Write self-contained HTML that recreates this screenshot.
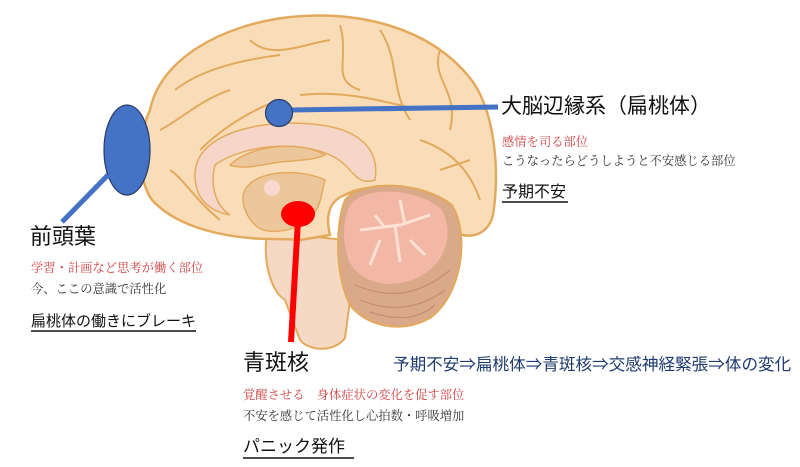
<!DOCTYPE html>
<html><head><meta charset="utf-8"><style>
html,body{margin:0;padding:0;background:#fff;width:800px;height:467px;overflow:hidden}
svg{display:block}
text{font-family:"Liberation Serif","Noto Serif CJK SC","Noto Sans CJK JP",serif}
.h{font-family:"Liberation Sans","Noto Sans CJK JP",sans-serif}
</style></head><body>
<svg width="800" height="467" viewBox="0 0 800 467" xmlns="http://www.w3.org/2000/svg">
<!-- brainstem -->
<path d="M268,232 C262,250 268,290 285,300 L300,340 C310,352 335,352 345,338 L350,300 L345,240 Z" fill="#f6d9c4" stroke="#e3aa5e" stroke-width="2"/>
<!-- cerebrum -->
<path d="M150,110 C160,60 220,25 290,17 C360,10 430,28 470,78 C495,110 500,170 493,215 C488,235 470,240 455,232 C440,200 380,175 345,195 C330,200 325,215 330,235 L300,240 C280,238 265,240 250,238 C215,235 175,225 152,200 C137,180 138,135 150,110 Z" fill="#f9ddb8" stroke="#e3aa5e" stroke-width="2.5"/>
<g stroke="#e3aa5e" stroke-width="2" fill="none">
<path d="M175,90 C200,70 240,60 280,55 M250,40 C270,60 300,45 330,40 M340,25 C350,60 330,80 360,90 M380,30 C400,60 390,90 410,120 M440,50 C430,80 460,90 450,130 M160,130 C180,120 200,100 230,90 M200,150 C220,130 250,110 280,100 M300,95 C340,90 380,100 420,110 M420,140 C450,150 470,170 480,200 M170,170 C185,180 195,200 220,220 M440,170 L470,160"/>
</g>
<!-- cerebellum -->
<path d="M345,200 C360,180 420,180 452,205 C470,235 462,295 430,318 C400,335 365,325 350,305 C335,275 335,225 345,200 Z" fill="#d9a98a" stroke="#e3aa5e" stroke-width="2"/>
<g stroke="#c48e70" stroke-width="1.2" fill="none">
<path d="M355,285 C390,300 420,295 450,270 M360,300 C395,315 425,305 445,290 M370,312 C400,322 420,318 435,305"/>
</g>
<path d="M350,205 C365,185 420,188 442,210 C455,235 445,268 412,280 C385,290 355,280 348,258 C342,240 343,220 350,205 Z" fill="#f3b7a6"/>
<path d="M360,230 L400,225 L430,215 M395,225 L400,262 M380,240 L370,265 M410,240 L425,255 M400,200 L405,225 M375,215 L385,228" stroke="#fde2d4" stroke-width="3" fill="none"/>
<!-- corpus callosum -->
<path d="M195,175 C195,130 270,118 320,125 C360,130 380,150 375,180 C360,185 355,175 345,165 C320,140 250,140 215,165 C210,185 215,205 230,215 C205,210 195,195 195,175 Z" fill="#f6d6c9" stroke="#e3aa5e" stroke-width="1.5"/>
<path d="M230,165 C250,145 300,140 325,155 C315,160 300,160 280,162 C260,165 245,170 230,165 Z" fill="#ecc79c" stroke="#e3aa5e" stroke-width="1.5"/>
<path d="M245,190 C255,170 300,168 325,180 C320,200 320,215 300,225 C280,235 262,232 255,225 C245,215 240,200 245,190 Z" fill="#ecc79c" stroke="#e3aa5e" stroke-width="1.5"/>
<circle cx="272" cy="188" r="8" fill="#f8d8cf"/>
<!-- markers -->
<ellipse cx="127" cy="150" rx="23" ry="45" fill="#4472c4" stroke="#2a3c66" stroke-width="1.2"/>
<line x1="108" y1="175" x2="62" y2="222" stroke="#4472c4" stroke-width="5"/>
<line x1="290" y1="110" x2="498" y2="107" stroke="#4472c4" stroke-width="5"/>
<circle cx="279" cy="113" r="13.5" fill="#4472c4" stroke="#2a3c66" stroke-width="1.2"/>
<line x1="298" y1="220" x2="291" y2="342" stroke="#f00" stroke-width="6"/>
<ellipse cx="298" cy="214" rx="17" ry="13" fill="#f00"/>
<!-- texts -->
<text class="h" x="501" y="113" font-size="21" fill="#111">大脳辺縁系（扁桃体）</text>
<text x="502" y="146" font-size="12.3" fill="#d04040">感情を司る部位</text>
<text x="502" y="165" font-size="12.3" fill="#333">こうなったらどうしようと不安感じる部位</text>
<text class="h" x="502" y="197" font-size="16" fill="#111">予期不安</text>
<line x1="502" y1="202" x2="568" y2="202" stroke="#111" stroke-width="1.5"/>
<text class="h" x="30" y="244" font-size="22" fill="#111">前頭葉</text>
<text x="31" y="272" font-size="12.3" fill="#d04040">学習・計画など思考が働く部位</text>
<text x="31" y="293" font-size="12.3" fill="#333">今、ここの意識で活性化</text>
<text class="h" x="31" y="326" font-size="15" fill="#111">扁桃体の働きにブレーキ</text>
<line x1="31" y1="331" x2="196" y2="331" stroke="#111" stroke-width="1.5"/>
<text class="h" x="243" y="370" font-size="22" fill="#111">青斑核</text>
<text class="h" x="393" y="370" font-size="16.6" fill="#1f3a6e">予期不安⇒扁桃体⇒青斑核⇒交感神経緊張⇒体の変化</text>
<text x="243" y="399" font-size="12.3" fill="#d04040">覚醒させる　身体症状の変化を促す部位</text>
<text x="243" y="420" font-size="12.3" fill="#333">不安を感じて活性化し心拍数・呼吸増加</text>
<text class="h" x="243" y="452" font-size="17" fill="#111">パニック発作</text>
<line x1="243" y1="458" x2="354" y2="458" stroke="#111" stroke-width="1.5"/>
</svg>
</body></html>
